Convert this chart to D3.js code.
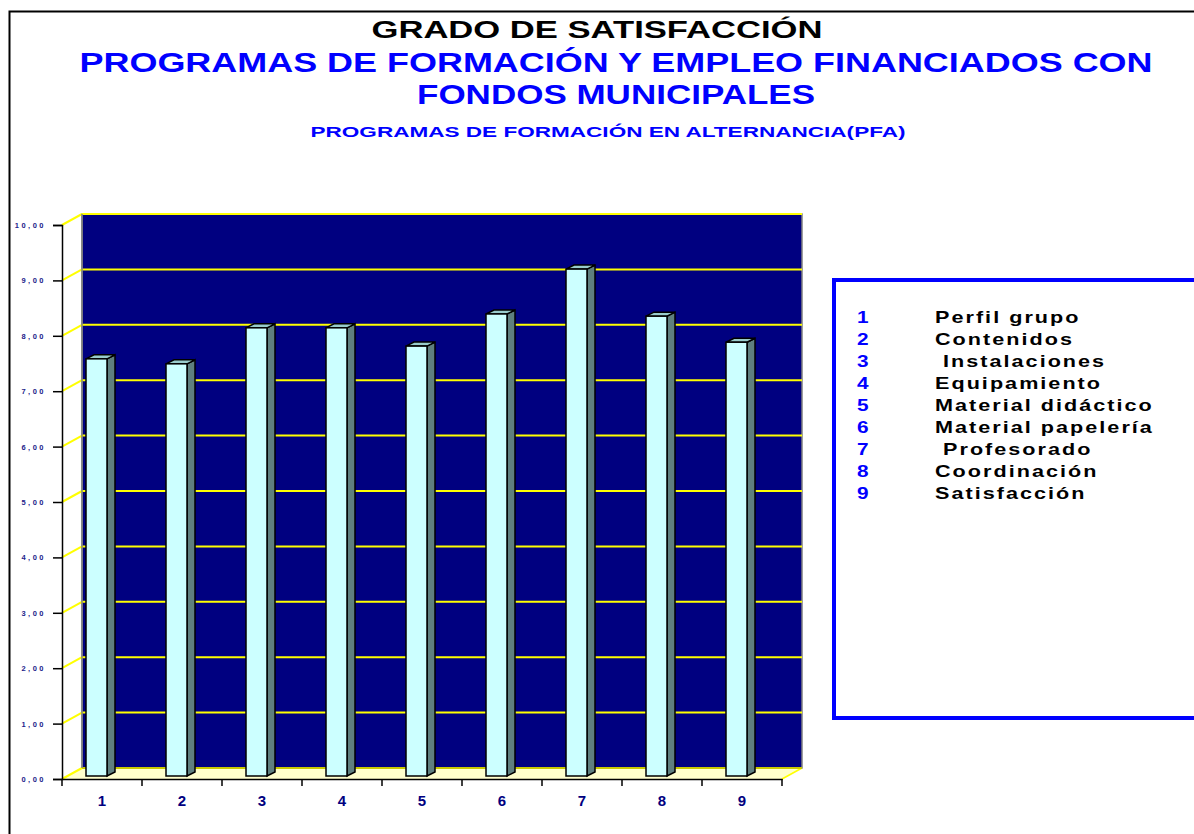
<!DOCTYPE html>
<html>
<head>
<meta charset="utf-8">
<script src="https://cdn.jsdelivr.net/npm/d3@7"></script>
<style>
  body { margin: 0; background: #fff; }
  svg text { font-family: "Liberation Sans", Arial, sans-serif; font-weight: bold; }
</style>
</head>
<body>
<svg id="chart" width="1194" height="834"></svg>
<script>
var categories = ['1', '2', '3', '4', '5', '6', '7', '8', '9'];
var values = [7.53, 7.44, 8.09, 8.09, 7.76, 8.34, 9.15, 8.30, 7.83];
var legendLabels = ['Perfil grupo', 'Contenidos', ' Instalaciones', 'Equipamiento',
    'Material didáctico', 'Material papelería', ' Profesorado', 'Coordinación', 'Satisfacción'];
var yTicks = [0, 1, 2, 3, 4, 5, 6, 7, 8, 9, 10];

var svg = d3.select('#chart');

// outer frame (only top and left show in the window)
svg.append('path')
    .attr('d', 'M9.5,1000 L9.5,11.5 L1300,11.5')
    .attr('fill', 'none')
    .attr('stroke', '#000')
    .attr('stroke-width', 2);

// titles (the original glyphs are stretched wide)
function title(txt, cx, y, size, color, len) {
    svg.append('text').attr('x', cx - len / 2).attr('y', y)
        .attr('font-size', size).attr('fill', color)
        .attr('textLength', len).attr('lengthAdjust', 'spacingAndGlyphs')
        .text(txt);
}
title('GRADO DE SATISFACCIÓN', 597, 38, 24, '#000', 451);
title('PROGRAMAS DE FORMACIÓN Y EMPLEO FINANCIADOS CON', 616, 72, 27, '#0000ff', 1073);
title('FONDOS MUNICIPALES', 616, 104, 27, '#0000ff', 398);
title('PROGRAMAS DE FORMACIÓN EN ALTERNANCIA(PFA)', 608, 137, 15, '#0000ff', 595);

// 3d geometry
var dx = 20, dy = -11;
var x = d3.scaleBand().domain(categories).range([62, 782]);
var yFront = d3.scaleLinear().domain([0, 10]).range([779, 225]);
var yBack = d3.scaleLinear().domain([0, 10]).range([779 + dy, 225 + dy]);
var yBar = d3.scaleLinear().domain([0, 10]).range([776, 222]);

var x0 = x.range()[0], x1 = x.range()[1];

// back wall
svg.append('rect')
    .attr('x', x0 + dx).attr('y', yBack(10))
    .attr('width', x1 - x0).attr('height', yBack(0) - yBack(10))
    .attr('fill', '#000080')
    .attr('stroke', '#808080').attr('stroke-width', 1.5);

// floor
svg.append('path')
    .attr('d', 'M' + x0 + ',' + yFront(0) + ' L' + (x0 + dx) + ',' + yBack(0) +
        ' L' + (x1 + dx) + ',' + yBack(0) + ' L' + x1 + ',' + yFront(0) + 'Z')
    .attr('fill', '#ffffcc');
svg.append('line')
    .attr('x1', x1).attr('y1', yFront(0)).attr('x2', x1 + dx).attr('y2', yBack(0))
    .attr('stroke', '#ffff00').attr('stroke-width', 1.5);

// gridlines on back wall + side diagonals
var grid = svg.append('g');
grid.selectAll('.hgrid').data(yTicks).enter().append('line')
    .attr('x1', x0 + dx).attr('x2', x1 + dx)
    .attr('y1', d => yBack(d)).attr('y2', d => yBack(d))
    .attr('stroke', d => d === 0 ? '#c8c800' : '#ffff00').attr('stroke-width', 2);
grid.selectAll('.dgrid').data(yTicks).enter().append('line')
    .attr('x1', x0).attr('x2', x0 + dx)
    .attr('y1', d => yFront(d)).attr('y2', d => yBack(d))
    .attr('stroke', '#ffff00').attr('stroke-width', 2);
svg.append('line')
    .attr('x1', x0 + dx).attr('x2', x0 + dx).attr('y1', yBack(10)).attr('y2', yBack(0))
    .attr('stroke', '#808080').attr('stroke-width', 1.5);

// bars
var bw = 21, bdx = 8, bdy = -4;
var bars = svg.append('g').selectAll('g').data(values).enter().append('g');
function bx(i) { return x(categories[i]) + 24; }
bars.append('path')
    .attr('d', (d, i) => {
        var l = bx(i) + bw, t = yBar(d), b = yBar(0);
        return 'M' + l + ',' + t + ' L' + (l + bdx) + ',' + (t + bdy) +
            ' L' + (l + bdx) + ',' + (b + bdy) + ' L' + l + ',' + b + 'Z';
    })
    .attr('fill', '#5f7f7f').attr('stroke', '#000').attr('stroke-width', 1.5);
bars.append('path')
    .attr('d', (d, i) => {
        var l = bx(i), t = yBar(d);
        return 'M' + l + ',' + t + ' L' + (l + bdx) + ',' + (t + bdy) +
            ' L' + (l + bw + bdx) + ',' + (t + bdy) + ' L' + (l + bw) + ',' + t + 'Z';
    })
    .attr('fill', '#99cccc').attr('stroke', '#000').attr('stroke-width', 1.5);
bars.append('rect')
    .attr('x', (d, i) => bx(i))
    .attr('y', d => yBar(d))
    .attr('width', bw)
    .attr('height', d => yBar(0) - yBar(d))
    .attr('fill', '#ccffff').attr('stroke', '#000').attr('stroke-width', 1.5);

// y axis
var yAxis = d3.axisLeft(yFront).tickValues(yTicks).tickSize(9).tickPadding(7)
    .tickFormat(d => d3.format('.2f')(d).replace('.', ','));
var ya = svg.append('g').attr('transform', 'translate(' + x0 + ',0)').call(yAxis);
ya.select('.domain').attr('stroke', '#000').attr('stroke-width', 1.5);
ya.selectAll('.tick line').attr('stroke', '#000').attr('stroke-width', 1.5);
ya.selectAll('.tick text')
    .attr('font-size', 7.5).attr('letter-spacing', 2.5)
    .attr('fill', '#22228a')
    .style('font-family', '"Liberation Sans", Arial, sans-serif').style('font-weight', 'bold');

// x axis
var xAxis = d3.axisBottom(x).tickSize(0).tickPadding(16);
var xa = svg.append('g').attr('transform', 'translate(0,' + yFront(0) + ')').call(xAxis);
xa.select('.domain').attr('stroke', '#000').attr('stroke-width', 1.5);
xa.selectAll('.tick text')
    .attr('font-size', 15).attr('fill', '#000080')
    .style('font-family', '"Liberation Sans", Arial, sans-serif').style('font-weight', 'bold');
xa.selectAll('.sep').data(d3.range(categories.length + 1)).enter().append('line')
    .attr('x1', i => x0 + i * x.step()).attr('x2', i => x0 + i * x.step())
    .attr('y1', 0).attr('y2', 7)
    .attr('stroke', '#000').attr('stroke-width', 1.5);

// legend box
svg.append('path')
    .attr('d', 'M1300,280 L834,280 L834,718 L1300,718')
    .attr('fill', 'none').attr('stroke', '#0000ff').attr('stroke-width', 4);

var leg = svg.append('g').selectAll('g').data(legendLabels).enter().append('g')
    .attr('transform', (d, i) => 'translate(0,' + (323 + i * 22) + ')');
leg.append('text').attr('transform', 'translate(857,0) scale(1.3,1)')
    .attr('font-size', 16).attr('fill', '#0000ff')
    .text((d, i) => categories[i]);
leg.append('text').attr('transform', 'translate(935,0) scale(1.35,1)')
    .attr('font-size', 16).attr('fill', '#000')
    .attr('letter-spacing', 1.5).style('white-space', 'pre')
    .text(d => d);
</script>
</body>
</html>
